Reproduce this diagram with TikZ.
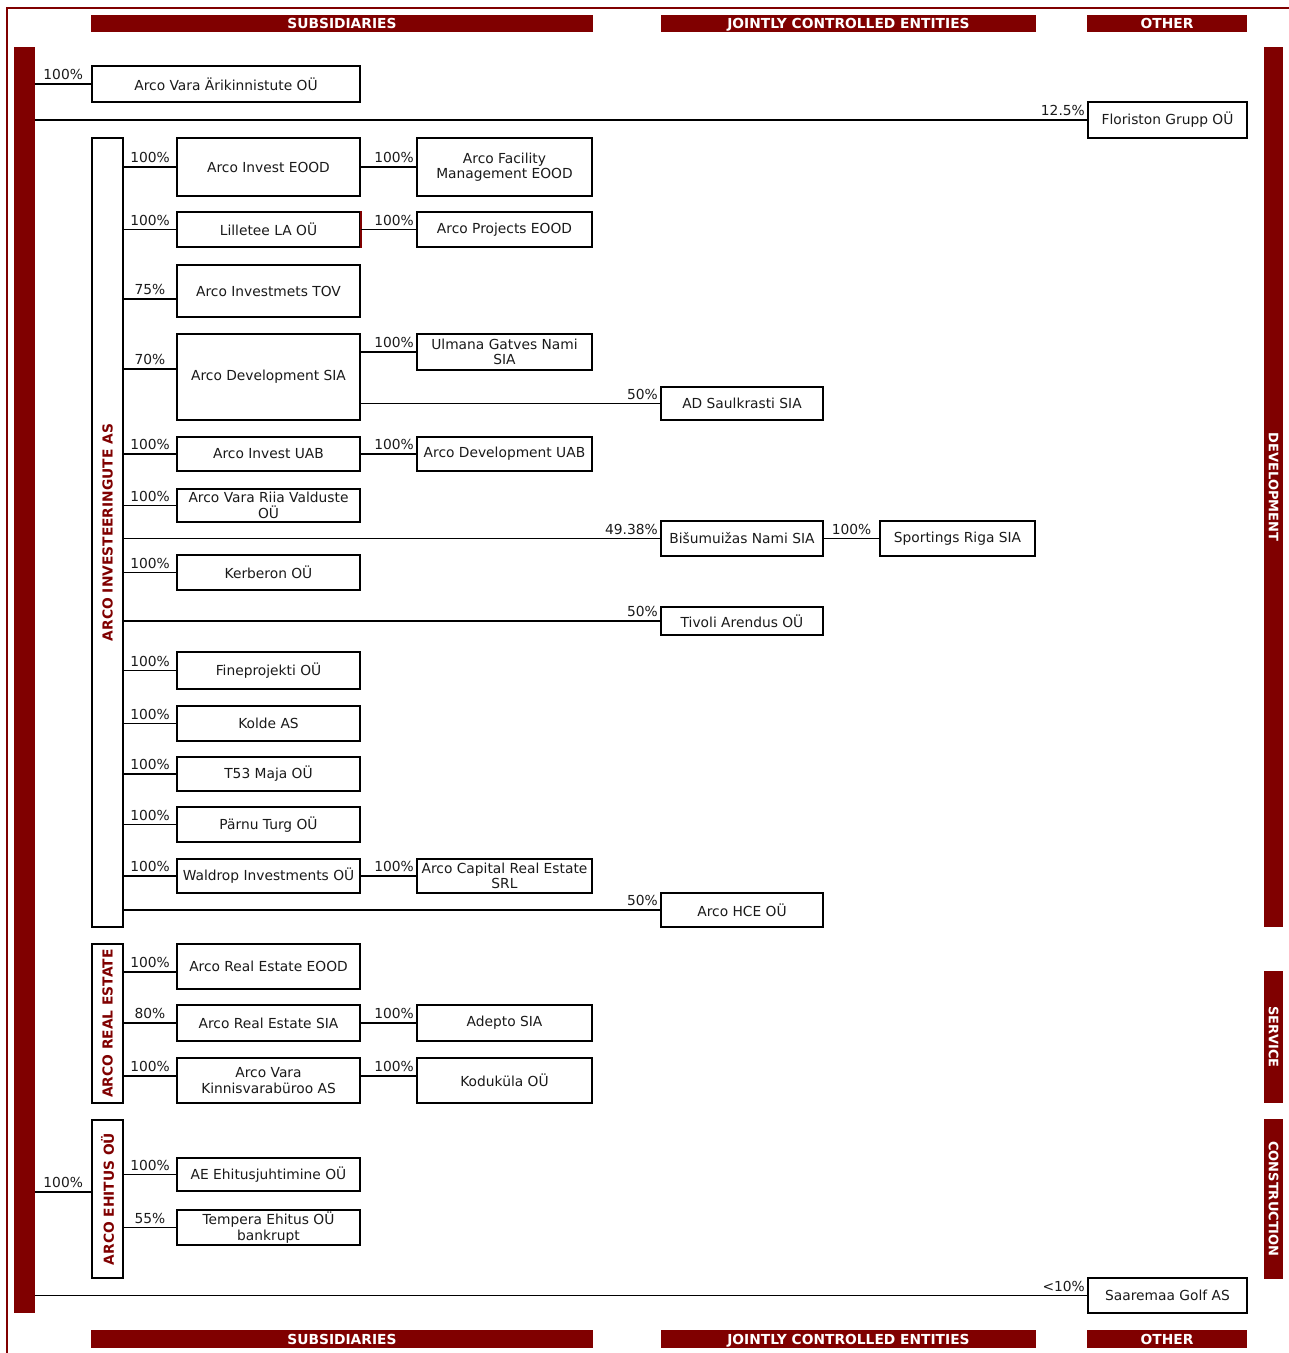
\documentclass[tikz,border=0pt]{standalone}
\usepackage{fontspec}
\setmainfont{DejaVu Sans}
\definecolor{arcored}{HTML}{800000}
\definecolor{txt}{HTML}{1A1A1A}
\newcommand\entfont{\fontsize{13.8}{15.5}\selectfont}
\newcommand\hdrfont{\bfseries\fontsize{13.8}{15}\selectfont}
\newcommand\sidefont{\bfseries\fontsize{13}{15}\selectfont}
\tikzset{
  ent/.style={draw, line width=1.7pt, fill=white, inner sep=0pt, align=center, font=\entfont, text=txt},
  grp/.style={draw, line width=1.7pt, fill=white, inner sep=0pt},
  grptext/.style={text=arcored, font=\hdrfont, inner sep=0pt},
  link/.style={line width=1.7pt},
  pct/.style={font=\entfont, text=txt, inner xsep=1.5pt, inner ysep=3pt, anchor=south},
  pctend/.style={pct, pos=1, anchor=south east},
  bar/.style={fill=arcored, inner sep=0pt},
  bartext/.style={text=white, font=\sidefont, inner sep=0pt},
  hdrtext/.style={text=white, font=\hdrfont, inner sep=0pt, text height=10pt, text depth=0pt},
}
\newcommand\mkent[6]{\node[ent, minimum width={#4-#2}, minimum height={#5-#3}] (#1) at ({(#2+#4)/2},{(#3+#5)/2}) {#6};}
\newcommand\mkgrp[6]{\node[grp, minimum width={#4-#2}, minimum height={#5-#3}] (#1) at ({(#2+#4)/2},{(#3+#5)/2}) {};
  \node[grptext, rotate=90] at (#1.center) {#6};}
\newcommand\mkside[6]{\node[bar, minimum width={#4-#2}, minimum height={#5-#3}] (#1) at ({(#2+#4)/2},{(#3+#5)/2}) {};
  \node[bartext, rotate=-90] at (#1.center) {#6};}
\newcommand\mkhdr[6]{\node[bar, hdrtext, minimum width={#4-#2}, minimum height={#5-#3}] (#1) at ({(#2+#4)/2},{(#3+#5)/2}) {#6};}
\begin{document}
\begin{tikzpicture}[x=1pt, y=-1pt]
\useasboundingbox (0,0) rectangle (1289,1353);
% outer frame
\draw[arcored, line width=2pt] (7,1353) -- (7,8) -- (1289,8);
% headers
\mkhdr{hsub}{91}{15}{593}{32}{SUBSIDIARIES}
\mkhdr{hjce}{661}{15}{1036}{32}{JOINTLY CONTROLLED ENTITIES}
\mkhdr{hoth}{1087}{15}{1247}{32}{OTHER}
\mkhdr{fsub}{91}{1330}{593}{1348}{SUBSIDIARIES}
\mkhdr{fjce}{661}{1330}{1036}{1348}{JOINTLY CONTROLLED ENTITIES}
\mkhdr{foth}{1087}{1330}{1247}{1348}{OTHER}
% parent bar
\node[bar, minimum width=21, minimum height=1266] (parent) at (24.5,680) {};
% side bars
\mkside{sdev}{1264}{47}{1283}{927}{DEVELOPMENT}
\mkside{sser}{1264}{971}{1283}{1103}{SERVICE}
\mkside{scon}{1264}{1119}{1283}{1279}{CONSTRUCTION}
% groups
\mkgrp{inv}{92}{138}{123}{927}{ARCO INVESTEERINGUTE AS}
\mkgrp{res}{92}{944}{123}{1103}{ARCO REAL ESTATE}
\mkgrp{ehi}{92}{1120}{123}{1278}{ARCO EHITUS OÜ}
% entities
\mkent{ari}{92}{66}{360}{102}{Arco Vara Ärikinnistute OÜ}
\mkent{flo}{1088}{102}{1247}{138}{Floriston Grupp OÜ}
\mkent{ieood}{177}{138}{360}{196}{Arco Invest EOOD}
\mkent{afm}{417}{138}{592}{196}{Arco Facility\\Management EOOD}
\mkent{lil}{177}{212}{360}{247}{Lilletee LA OÜ}
\mkent{apr}{417}{212}{592}{247}{Arco Projects EOOD}
\mkent{tov}{177}{265}{360}{317}{Arco Investmets TOV}
\mkent{dsia}{177}{334}{360}{420}{Arco Development SIA}
\mkent{ulm}{417}{334}{592}{370}{Ulmana Gatves Nami\\SIA}
\mkent{sau}{661}{387}{823}{420}{AD Saulkrasti SIA}
\mkent{iuab}{177}{437}{360}{471}{Arco Invest UAB}
\mkent{duab}{417}{437}{592}{471}{Arco Development UAB}
\mkent{riia}{177}{489}{360}{522}{Arco Vara Riia Valduste\\OÜ}
\mkent{bis}{661}{521}{823}{556}{Bišumuižas Nami SIA}
\mkent{spo}{880}{521}{1035}{556}{Sportings Riga SIA}
\mkent{ker}{177}{555}{360}{590}{Kerberon OÜ}
\mkent{tiv}{661}{607}{823}{635}{Tivoli Arendus OÜ}
\mkent{fin}{177}{652}{360}{689}{Fineprojekti OÜ}
\mkent{kol}{177}{706}{360}{741}{Kolde AS}
\mkent{t53}{177}{757}{360}{791}{T53 Maja OÜ}
\mkent{par}{177}{807}{360}{842}{Pärnu Turg OÜ}
\mkent{wal}{177}{859}{360}{893}{Waldrop Investments OÜ}
\mkent{acr}{417}{859}{592}{893}{Arco Capital Real Estate\\SRL}
\mkent{hce}{661}{893}{823}{927}{Arco HCE OÜ}
\mkent{reeood}{177}{944}{360}{989}{Arco Real Estate EOOD}
\mkent{resia}{177}{1005}{360}{1041}{Arco Real Estate SIA}
\mkent{ade}{417}{1005}{592}{1041}{Adepto SIA}
\mkent{kvb}{177}{1058}{360}{1103}{Arco Vara\\Kinnisvarabüroo AS}
\mkent{kod}{417}{1058}{592}{1103}{Koduküla OÜ}
\mkent{aeh}{177}{1158}{360}{1191}{AE Ehitusjuhtimine OÜ}
\mkent{tem}{177}{1210}{360}{1245}{Tempera Ehitus OÜ\\bankrupt}
\mkent{saa}{1088}{1278}{1247}{1313}{Saaremaa Golf AS}
\draw[arcored, line width=1.7pt] (lil.north east) -- (lil.south east);
% offset connector ends
\coordinate (tovin) at ([yshift=-8pt]tov.west);
\coordinate (dsiain) at ([yshift=8pt]dsia.west);
\coordinate (reeoodin) at ([yshift=-5.5pt]reeood.west);
\coordinate (kvbin) at ([yshift=4.5pt]kvb.west);
\coordinate (kvbout) at ([yshift=4.5pt]kvb.east);
\coordinate (ehiin) at ([yshift=7pt]ehi.west);
% connectors from parent
\draw[link] (parent.east |- ari.west) -- node[pct]{100\%} (ari.west);
\draw[link] (parent.east |- flo.west) -- node[pctend]{12.5\%} (flo.west);
\draw[link] (parent.east |- ehiin) -- node[pct]{100\%} (ehiin);
\draw[link] (parent.east |- saa.west) -- node[pctend]{<10\%} (saa.west);
% investeeringute group
\draw[link] (inv.east |- ieood.west) -- node[pct]{100\%} (ieood.west);
\draw[link] (ieood.east) -- node[pctend]{100\%} (afm.west);
\draw[link] (inv.east |- lil.west) -- node[pct]{100\%} (lil.west);
\draw[link] (lil.east) -- node[pctend]{100\%} (apr.west);
\draw[link] (inv.east |- tovin) -- node[pct]{75\%} (tovin);
\draw[link] (inv.east |- dsiain) -- node[pct]{70\%} (dsiain);
\draw[link] (dsia.east |- ulm.west) -- node[pctend]{100\%} (ulm.west);
\draw[link] (dsia.east |- sau.west) -- node[pctend]{50\%} (sau.west);
\draw[link] (inv.east |- iuab.west) -- node[pct]{100\%} (iuab.west);
\draw[link] (iuab.east) -- node[pctend]{100\%} (duab.west);
\draw[link] (inv.east |- riia.west) -- node[pct]{100\%} (riia.west);
\draw[link] (inv.east |- bis.west) -- node[pctend]{49.38\%} (bis.west);
\draw[link] (bis.east) -- node[pct]{100\%} (spo.west);
\draw[link] (inv.east |- ker.west) -- node[pct]{100\%} (ker.west);
\draw[link] (inv.east |- tiv.west) -- node[pctend]{50\%} (tiv.west);
\draw[link] (inv.east |- fin.west) -- node[pct]{100\%} (fin.west);
\draw[link] (inv.east |- kol.west) -- node[pct]{100\%} (kol.west);
\draw[link] (inv.east |- t53.west) -- node[pct]{100\%} (t53.west);
\draw[link] (inv.east |- par.west) -- node[pct]{100\%} (par.west);
\draw[link] (inv.east |- wal.west) -- node[pct]{100\%} (wal.west);
\draw[link] (wal.east) -- node[pctend]{100\%} (acr.west);
\draw[link] (inv.east |- hce.west) -- node[pctend]{50\%} (hce.west);
% real estate group
\draw[link] (res.east |- reeoodin) -- node[pct]{100\%} (reeoodin);
\draw[link] (res.east |- resia.west) -- node[pct]{80\%} (resia.west);
\draw[link] (resia.east) -- node[pctend]{100\%} (ade.west);
\draw[link] (res.east |- kvbin) -- node[pct]{100\%} (kvbin);
\draw[link] (kvbout) -- node[pctend]{100\%} (kod.west |- kvbout);
% ehitus group
\draw[link] (ehi.east |- aeh.west) -- node[pct]{100\%} (aeh.west);
\draw[link] (ehi.east |- tem.west) -- node[pct]{55\%} (tem.west);
\end{tikzpicture}
\end{document}
